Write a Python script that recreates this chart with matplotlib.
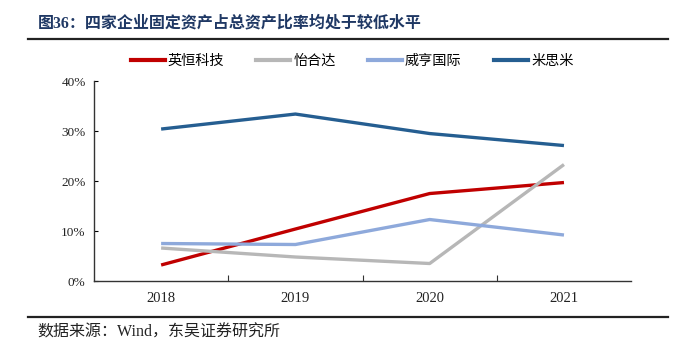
#!/usr/bin/env python3
"""Fixed assets / total assets ratio for four companies, 2018-2021."""

import matplotlib

matplotlib.use("Agg")

import matplotlib.pyplot as plt
from matplotlib.lines import Line2D
from matplotlib.ticker import FuncFormatter, MultipleLocator

plt.rcParams["font.family"] = ["Liberation Serif", "Noto Sans CJK SC", "DejaVu Sans"]

years = ["2018", "2019", "2020", "2021"]
yingheng = [3.2, 10.4, 17.5, 19.7]
yiheda = [6.6, 4.8, 3.5, 23.3]
weiheng = [7.5, 7.3, 12.3, 9.2]
misumi = [30.4, 33.4, 29.5, 27.1]

series = [
    ("英恒科技", yingheng, "#C00000"),
    ("怡合达", yiheda, "#B7B7B7"),
    ("威亨国际", weiheng, "#8EA9DB"),
    ("米思米", misumi, "#255E91"),
]

fig = plt.figure(figsize=(6.86, 3.52), dpi=100)
ax = fig.add_axes([0.137, 0.2017, 0.783, 0.568])

x = list(range(len(years)))
for name, vals, color in series:
    ax.plot(x, vals, color=color, linewidth=2.4, solid_capstyle="butt", label=name)

ax.set_xlim(-0.5, len(years) - 0.5)
ax.set_ylim(0, 40)
ax.yaxis.set_major_locator(MultipleLocator(10))
ax.yaxis.set_major_formatter(FuncFormatter(lambda v, _: f"{v:.0f}%"))
# category boundaries get the ticks, labels sit in the middle
ax.set_xticks([i + 0.5 for i in range(len(years) - 1)])
ax.set_xticklabels([])
ax.set_xticks(x, minor=True)
ax.set_xticklabels(years, minor=True)
ax.tick_params(axis="x", which="major", direction="in", length=4, width=0.8, color="#333333")
ax.tick_params(axis="x", which="minor", length=0, labelsize=10.5, pad=8, labelcolor="#222222")
ax.tick_params(axis="y", direction="in", length=3, width=0.8, labelsize=9.5, labelcolor="#222222", pad=6)

for side in ("top", "right"):
    ax.spines[side].set_visible(False)
for side in ("left", "bottom"):
    ax.spines[side].set_color("#333333")
    ax.spines[side].set_linewidth(1.0)

handles = [Line2D([], [], color=c, linewidth=3) for _, _, c in series]
fig.legend(
    handles,
    [n for n, _, _ in series],
    loc="center",
    bbox_to_anchor=(0.513, 0.827),
    ncol=4,
    frameon=False,
    fontsize=10.2,
    handlelength=2.4,
    handletextpad=0.2,
    columnspacing=2.3,
)

fig.text(0.055, 0.932, "图36：四家企业固定资产占总资产比率均处于较低水平",
         fontsize=11.5, fontweight="bold", color="#1F3864", va="center", ha="left")
fig.add_artist(Line2D([0.041, 0.974], [0.888, 0.888], color="#222222", linewidth=1.6))
fig.add_artist(Line2D([0.041, 0.974], [0.099, 0.099], color="#222222", linewidth=1.6))
fig.text(0.055, 0.054, "数据来源：Wind，东吴证券研究所", fontsize=11.5, color="#222222",
         va="center", ha="left")

fig.savefig("out.png", dpi=100)
